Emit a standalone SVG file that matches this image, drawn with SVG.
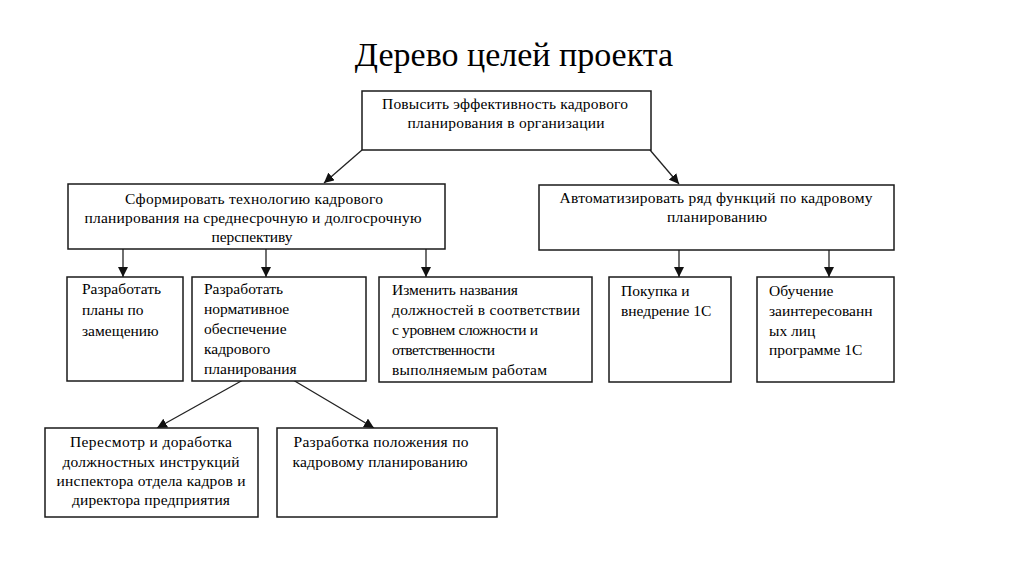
<svg xmlns="http://www.w3.org/2000/svg" width="1024" height="574" viewBox="0 0 1024 574" font-family="Liberation Serif, Times New Roman, serif">
<style>
.box{fill:#fff;stroke:#1a1a1a;stroke-width:1.5}
.t{font-size:15.5px;fill:#000}
.c{text-anchor:middle}
.title{font-size:34px;fill:#000;text-anchor:middle}
.ln{stroke:#222;stroke-width:1.3;fill:none;marker-end:url(#ah)}
</style>
<defs>
<marker id="ah" markerUnits="userSpaceOnUse" markerWidth="12" markerHeight="10" refX="10" refY="5" orient="auto">
<path d="M0,0 L10,5 L0,10 Z" fill="#111"/>
</marker>
</defs>
<rect width="1024" height="574" fill="#fff"/>
<text class="title" x="514" y="66" font-family="Liberation Serif, serif">Дерево целей проекта</text>

<g id="connectors">
<line class="ln" x1="362" y1="150" x2="324" y2="183"/>
<line class="ln" x1="650" y1="150" x2="679" y2="184"/>
<line class="ln" x1="123" y1="249" x2="123" y2="277"/>
<line class="ln" x1="266" y1="249" x2="266" y2="277"/>
<line class="ln" x1="426" y1="249" x2="426" y2="277"/>
<line class="ln" x1="679" y1="250" x2="679" y2="277"/>
<line class="ln" x1="829" y1="250" x2="829" y2="277"/>
<line class="ln" x1="243" y1="380" x2="157" y2="428"/>
<line class="ln" x1="293" y1="380" x2="374" y2="428"/>
</g>

<g id="n-root" font-family="Liberation Serif, serif">
<rect class="box" x="362" y="91" width="289" height="59"/>
<text class="t c" x="505" y="109" textLength="246" lengthAdjust="spacing">Повысить эффективность кадрового</text>
<text class="t c" x="506" y="128" textLength="197" lengthAdjust="spacing">планирования в организации</text>
</g>

<g id="n-tech" font-family="Liberation Serif, serif">
<rect class="box" x="68" y="184" width="377" height="65"/>
<text class="t c" x="254" y="204" textLength="258" lengthAdjust="spacing">Сформировать технологию  кадрового</text>
<text class="t c" x="253" y="223" textLength="337" lengthAdjust="spacing">планирования на среднесрочную и долгосрочную</text>
<text class="t c" x="252" y="242" textLength="81" lengthAdjust="spacing">перспективу</text>
</g>

<g id="n-auto" font-family="Liberation Serif, serif">
<rect class="box" x="539" y="185" width="355" height="65"/>
<text class="t c" x="716" y="203" textLength="313" lengthAdjust="spacing">Автоматизировать  ряд функций по кадровому</text>
<text class="t c" x="717" y="222" textLength="100" lengthAdjust="spacing">планированию</text>
</g>

<g id="n-plans" font-family="Liberation Serif, serif">
<rect class="box" x="67" y="277" width="116" height="104"/>
<text class="t" x="82" y="294">Разработать</text>
<text class="t" x="82" y="315">планы по</text>
<text class="t" x="82" y="336">замещению</text>
</g>

<g id="n-norm" font-family="Liberation Serif, serif">
<rect class="box" x="192" y="277" width="174" height="104"/>
<text class="t" x="204" y="294">Разработать</text>
<text class="t" x="204" y="314">нормативное</text>
<text class="t" x="204" y="334">обеспечение</text>
<text class="t" x="204" y="354">кадрового</text>
<text class="t" x="204" y="374">планирования</text>
</g>

<g id="n-rename" font-family="Liberation Serif, serif">
<rect class="box" x="379" y="277" width="213" height="105"/>
<text class="t" x="392" y="295" textLength="126" lengthAdjust="spacing">Изменить  названия</text>
<text class="t" x="392" y="315" textLength="188" lengthAdjust="spacing">должностей  в  соответствии</text>
<text class="t" x="392" y="335" textLength="146" lengthAdjust="spacing">с уровнем сложности  и</text>
<text class="t" x="392" y="355" textLength="103" lengthAdjust="spacing">ответственности</text>
<text class="t" x="392" y="375" textLength="155" lengthAdjust="spacing">выполняемым работам</text>
</g>

<g id="n-buy" font-family="Liberation Serif, serif">
<rect class="box" x="609" y="277" width="122" height="105"/>
<text class="t" x="621" y="296">Покупка и</text>
<text class="t" x="621" y="316">внедрение 1С</text>
</g>

<g id="n-train" font-family="Liberation Serif, serif">
<rect class="box" x="757" y="277" width="137" height="105"/>
<text class="t" x="769" y="296">Обучение</text>
<text class="t" x="769" y="316">заинтересованн</text>
<text class="t" x="769" y="336">ых лиц</text>
<text class="t" x="769" y="355">программе 1С</text>
</g>

<g id="n-review" font-family="Liberation Serif, serif">
<rect class="box" x="45" y="428" width="213" height="89"/>
<text class="t c" x="151" y="447" textLength="162" lengthAdjust="spacing">Пересмотр и доработка</text>
<text class="t c" x="151" y="467" textLength="177" lengthAdjust="spacing">должностных  инструкций</text>
<text class="t c" x="151" y="486" textLength="189" lengthAdjust="spacing">инспектора отдела  кадров  и</text>
<text class="t c" x="151" y="505" textLength="158" lengthAdjust="spacing">директора предприятия</text>
</g>

<g id="n-regulation" font-family="Liberation Serif, serif">
<rect class="box" x="277" y="428" width="220" height="89"/>
<text class="t c" x="381" y="447" textLength="175" lengthAdjust="spacing">Разработка положения по</text>
<text class="t c" x="380" y="467" textLength="175" lengthAdjust="spacing">кадровому планированию</text>
</g>
</svg>
